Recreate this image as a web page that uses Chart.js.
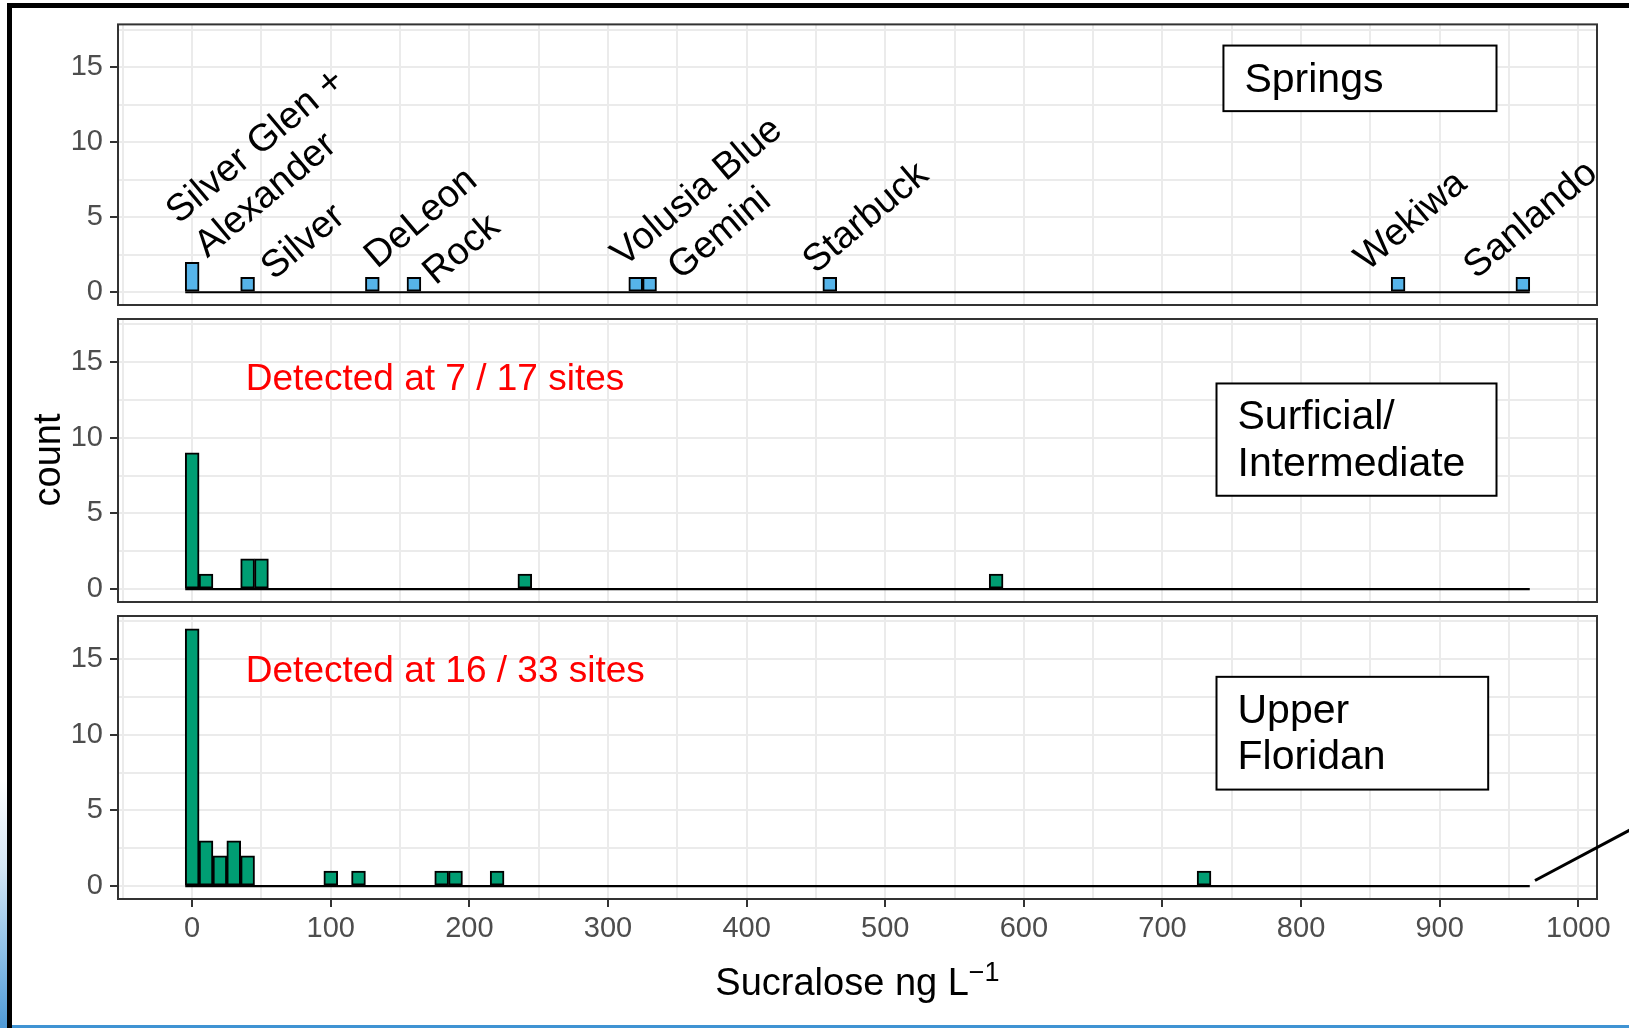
<!DOCTYPE html>
<html>
<head>
<meta charset="utf-8">
<title>Sucralose histograms</title>
<script src="https://cdn.jsdelivr.net/npm/chart.js@4.4.1/dist/chart.umd.min.js"></script>
<style>
  html, body { margin: 0; padding: 0; background: #fff; }
  #page { position: relative; width: 1629px; height: 1028px; overflow: hidden; background: #fff;
          font-family: "Liberation Sans", Arial, sans-serif; }
  #frame { position: absolute; left: 7px; top: 3px; right: -20px; bottom: -20px;
           border-left: 5px solid #000; border-top: 5px solid #000; }
  #edgeL { position: absolute; left: 0; top: 780px; width: 7px; height: 248px;
           background: linear-gradient(to bottom, #ffffff 0%, #d4e6f5 35%, #8cc0e8 70%, #4f9ad6 100%); }
  #edgeB { position: absolute; left: 12px; right: 0; bottom: 0; height: 3px; background: #3f93d3; }
  #pointer { position: absolute; left: 1535px; top: 879px; width: 110px; height: 3px; background: #000;
             transform-origin: 0 50%; transform: rotate(-28deg); }
  canvas { position: absolute; left: 0; top: 0; }
  #ytitle { position: absolute; left: -53px; top: 438px; width: 200px; height: 44px; line-height: 44px;
            text-align: center; font-size: 38px; color: #000; transform: rotate(-90deg); }
  #xtitle { position: absolute; left: 118px; width: 1479px; top: 962px; height: 40px; line-height: 40px;
            text-align: center; font-size: 38px; color: #000; white-space: nowrap; }
  #xtitle sup { font-size: 27px; position: relative; top: 10px; vertical-align: top; line-height: 0; }
</style>
</head>
<body>
<div id="page">
  <div id="frame"></div>
  <div id="edgeL"></div>
  <div id="edgeB"></div>
  <canvas id="springs" width="1629" height="1028"></canvas>
  <canvas id="surficial" width="1629" height="1028"></canvas>
  <canvas id="floridan" width="1629" height="1028"></canvas>
  <div id="ytitle">count</div>
  <div id="xtitle">Sucralose ng L<sup>&minus;1</sup></div>
  <div id="pointer"></div>
</div>
<script>
// Histogram bins are 10 ng/L wide; bin centres and counts per aquifer group.
const binWidth = 10;
const binFirstCentre = 0;
const binLastCentre = 960;

const springBins   = [0, 40, 130, 160, 320, 330, 460, 870, 960];
const springCounts = [2, 1, 1, 1, 1, 1, 1, 1, 1];
const springNames  = [["Silver Glen +", "Alexander"], ["Silver"], ["DeLeon"], ["Rock"],
                      ["Volusia Blue"], ["Gemini"], ["Starbuck"], ["Wekiwa"], ["Sanlando"]];

const surficialBins   = [0, 10, 40, 50, 240, 580];
const surficialCounts = [9, 1, 2, 2, 1, 1];

const floridanBins   = [0, 10, 20, 30, 40, 100, 120, 180, 190, 220, 730];
const floridanCounts = [17, 3, 2, 3, 2, 1, 1, 1, 1, 1, 1];

const panelTitles    = [["Springs"], ["Surficial/", "Intermediate"], ["Upper", "Floridan"]];
const detectionNotes = [null, "Detected at 7 / 17 sites", "Detected at 16 / 33 sites"];

const xTickLabels = [0, 100, 200, 300, 400, 500, 600, 700, 800, 900, 1000];
const yTickLabels = [0, 5, 10, 15];

// Placement of annotations, in axis units (ng/L, count).
const springNameAt = [[-9.6, 4.5], [58.9, 0.76], [133.4, 1.53], [175.5, 0.43], [311.4, 1.64],
                      [352.3, 0.76], [449.7, 1.19], [847.7, 1.37], [926.4, 0.84]];
const springNameAngle = 40;
const titleBoxAt = [
  { x0: 744, x1: 941, y0: 16.44, y1: 12.07 },
  { x0: 739, x1: 941, y0: 13.59, y1: 6.17 },
  { x0: 739, x1: 935, y0: 13.83, y1: 6.38 }
];
const noteAt = [null, { x: 38.7, y: 13.14 }, { x: 38.7, y: 13.5 }];

// ggplot-style 5% expansion of both axes
const lo = binFirstCentre - binWidth / 2, hi = binLastCentre + binWidth / 2;
const X_MIN = lo - 0.05 * (hi - lo), X_MAX = hi + 0.05 * (hi - lo);
const maxCount = Math.max(...springCounts, ...surficialCounts, ...floridanCounts);
const Y_MIN = -0.05 * maxCount, Y_MAX = maxCount * 1.05;

const xGrid = []; for (let v = -50; v <= 1000; v += 50) xGrid.push(v);
const yGrid = []; for (let v = 0; v <= 17.5; v += 2.5) yGrid.push(v);

const FONT = '"Liberation Sans", Arial, sans-serif';
Chart.defaults.font.family = FONT;

const panelDecor = {
  id: 'panelDecor',
  afterDraw(chart, args, o) {
    const { ctx, chartArea: a, scales: { x, y } } = chart;
    ctx.save();
    // rotated site names
    (o.names || []).forEach((lines, i) => {
      const [vx, vy] = o.nameAt[i];
      ctx.save();
      ctx.translate(x.getPixelForValue(vx), y.getPixelForValue(vy));
      ctx.rotate(-o.angle * Math.PI / 180);
      ctx.font = '38px ' + FONT;
      ctx.fillStyle = '#000';
      ctx.textAlign = 'left';
      ctx.textBaseline = 'alphabetic';
      lines.forEach((t, k) => ctx.fillText(t, 0, k * 44));
      ctx.restore();
    });
    // detection note
    if (o.note) {
      ctx.font = '37px ' + FONT;
      ctx.fillStyle = '#FF0000';
      ctx.textAlign = 'left';
      ctx.textBaseline = 'alphabetic';
      ctx.fillText(o.note, x.getPixelForValue(o.noteAt.x), y.getPixelForValue(o.noteAt.y));
    }
    // group title box
    const b = o.box;
    const bx0 = x.getPixelForValue(b.x0), bx1 = x.getPixelForValue(b.x1);
    const by0 = y.getPixelForValue(b.y0), by1 = y.getPixelForValue(b.y1);
    ctx.fillStyle = '#fff';
    ctx.fillRect(bx0, by0, bx1 - bx0, by1 - by0);
    ctx.strokeStyle = '#000';
    ctx.lineWidth = 2;
    ctx.strokeRect(bx0, by0, bx1 - bx0, by1 - by0);
    ctx.font = '41px ' + FONT;
    ctx.fillStyle = '#000';
    ctx.textAlign = 'left';
    ctx.textBaseline = 'alphabetic';
    o.title.forEach((t, k) => ctx.fillText(t, bx0 + 21, by0 + 46 + k * 46.5));
    // panel border
    ctx.strokeStyle = '#333333';
    ctx.lineWidth = 2;
    ctx.strokeRect(a.left, a.top, a.right - a.left, a.bottom - a.top);
    ctx.restore();
  }
};

function makePanel(id, bins, counts, fill, top, bottom, isBottom, idx) {
  const xAxisH = isBottom ? 60 : 0;
  return new Chart(document.getElementById(id), {
    data: {
      datasets: [
        {
          type: 'bar',
          data: bins.map((b, i) => ({ x: b, y: counts[i] })),
          backgroundColor: fill,
          borderColor: '#000',
          borderWidth: 2,
          borderSkipped: false,
          categoryPercentage: 1,
          barPercentage: 1,
          order: 1
        },
        {
          type: 'line',
          data: [{ x: lo, y: 0 }, { x: hi, y: 0 }],
          borderColor: '#000',
          borderWidth: 2.2,
          pointRadius: 0,
          order: 2
        }
      ]
    },
    options: {
      responsive: false,
      animation: false,
      events: [],
      layout: { padding: { left: 0, right: 32, top: top, bottom: 1028 - bottom - xAxisH } },
      plugins: {
        legend: { display: false },
        tooltip: { enabled: false },
        panelDecor: {
          names: idx === 0 ? springNames : null,
          nameAt: springNameAt,
          angle: springNameAngle,
          note: detectionNotes[idx],
          noteAt: noteAt[idx],
          box: titleBoxAt[idx],
          title: panelTitles[idx]
        }
      },
      scales: {
        x: {
          type: 'linear',
          min: X_MIN, max: X_MAX,
          offset: false,
          afterBuildTicks: s => { s.ticks = xGrid.map(v => ({ value: v })); },
          afterFit: s => { s.height = xAxisH; },
          border: { display: false },
          grid: {
            offset: false,
            color: '#EBEBEB',
            lineWidth: 2,
            drawTicks: isBottom,
            tickLength: 8,
            tickWidth: 2,
            tickColor: c => (c.tick && xTickLabels.includes(c.tick.value)) ? '#333333' : 'rgba(0,0,0,0)'
          },
          ticks: {
            display: isBottom,
            autoSkip: false,
            maxRotation: 0,
            padding: 5,
            color: '#4D4D4D',
            font: { size: 29 },
            callback: v => xTickLabels.includes(v) ? String(v) : ''
          }
        },
        y: {
          min: Y_MIN, max: Y_MAX,
          afterBuildTicks: s => { s.ticks = yGrid.map(v => ({ value: v })); },
          afterFit: s => { s.width = 118; },
          border: { display: false },
          grid: {
            color: '#EBEBEB',
            lineWidth: 2,
            tickLength: 8,
            tickWidth: 2,
            tickColor: c => (c.tick && yTickLabels.includes(c.tick.value)) ? '#333333' : 'rgba(0,0,0,0)'
          },
          ticks: {
            autoSkip: false,
            padding: 7,
            color: '#4D4D4D',
            font: { size: 29 },
            callback: v => yTickLabels.includes(v) ? String(v) : ''
          }
        }
      }
    },
    plugins: [panelDecor]
  });
}

makePanel('springs',   springBins,    springCounts,    '#56B4E9', 22,  305, false, 0);
makePanel('surficial', surficialBins, surficialCounts, '#009E73', 319, 602, false, 1);
makePanel('floridan',  floridanBins,  floridanCounts,  '#009E73', 616, 899, true,  2);
</script>
</body>
</html>
